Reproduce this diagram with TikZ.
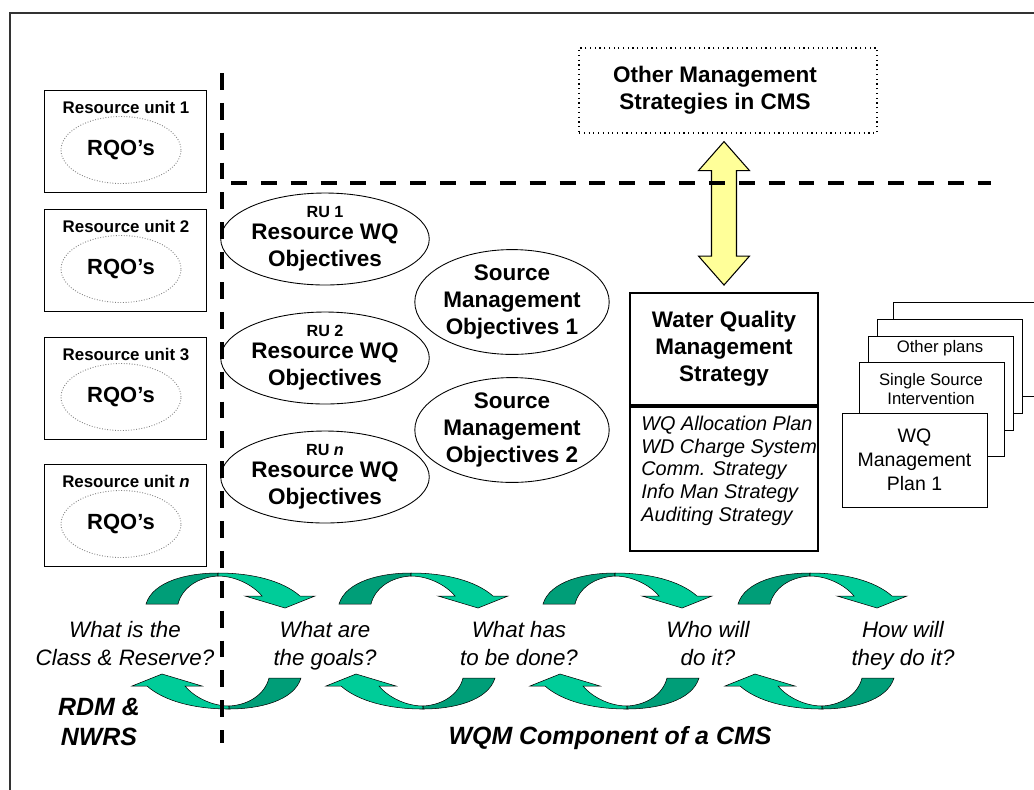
\documentclass[tikz,border=0pt]{standalone}
\usepackage{fontspec}
\setmainfont{Liberation Sans}
\usetikzlibrary{
    shapes.geometric,
    calc,
    positioning
}
\definecolor{darkgrn}{RGB}{0,158,120}
\definecolor{litegrn}{RGB}{0,204,153}
\definecolor{paleyel}{RGB}{255,255,153}

\tikzset{
    rubox/.style={draw, line width=0.5pt, minimum width=3.24cm, minimum height=2.04cm},
    rqo/.style={ellipse, draw=gray, densely dotted, line width=0.5pt,
        minimum width=2.4cm, minimum height=1.34cm, inner sep=0pt,
        font=\fontsize{12.5}{15}\selectfont\bfseries},
    ruell/.style={ellipse, draw, line width=0.5pt, minimum width=3.56cm,
        minimum height=1.84cm, inner sep=0pt, align=center,
        font=\fontsize{12.8}{15.3}\selectfont\bfseries},
    smo/.style={ruell, minimum width=3.58cm, minimum height=2.02cm},
    otherbox/.style={draw, dotted, line width=0.7pt, minimum width=5.96cm, minimum height=1.7cm},
    wqbox/.style={draw, line width=1.1pt, minimum width=3.76cm, align=center, inner sep=0pt,
        font=\fontsize{12.8}{15.3}\selectfont\bfseries},
    page/.style={draw, fill=white, line width=0.5pt, minimum width=2.9cm, minimum height=1.88cm,
        align=center, inner sep=0pt},
    big/.style={align=center, inner sep=0pt, font=\fontsize{12.8}{15.3}\selectfont\bfseries},
    ques/.style={align=center, inner sep=0pt, font=\fontsize{12.7}{15.9}\selectfont\itshape},
    tag/.style={align=center, inner sep=0pt, font=\fontsize{14.2}{17}\selectfont\bfseries\itshape},
    divline/.style={line width=2.3pt, dash pattern=on 9.6pt off 7.4pt},
    cyc/.pic={
        % back band
        \filldraw[fill=darkgrn, line width=0.3pt]
        (-72,31) .. controls (-65,8) and (-30,0) .. (0,0) -- (0,3)
        .. controls (-20,4) and (-36,15) .. (-40,31) -- cycle;
        % front band with head
        \filldraw[fill=litegrn, line width=0.3pt]
        (0,0) .. controls (35,0) and (65,8) .. (82,23) -- (97,23) -- (67,35)
        -- (27,23) -- (44,23) .. controls (34,11) and (16,3) .. (0,3) -- cycle;
    }
}

\begin{document}
\begin{tikzpicture}[x=0.02cm, y=-0.02cm]
    \useasboundingbox (0,0) rectangle (1034,789);
    \clip (0,0) rectangle (1034,789);
    \fill[white] (0,0) rectangle (1034,789);
    \draw[line width=1.1pt, black!80] (10,13) rectangle (1060,820);

    % resource units
    \foreach \t/\k/\i in {90/1/1, 209/2/2, 337/3/3, 464/{\textit{n}}/4} {
        \node[rubox] (unit\i) at (125,\t+51) {};
        \node[font=\fontsize{9.6}{11}\selectfont\bfseries, inner sep=0pt] (unitlbl\i) at (126,\t+17) {Resource unit \k};
        \node[rqo] (rqo\i) at (121,\t+60) {RQO’s};
    }

    % resource WQ objectives
    \foreach \y/\k/\i in {239/1/1, 358/2/2, 477/{\textit{n}}/3} {
        \node[ruell] (ru\i) at (325,\y) {{\fontsize{9.2}{11}\selectfont RU \k}\\[-2.8pt]Resource WQ\\Objectives};
    }

    % source management objectives
    \node[smo] (smo1) at (512,302) {Source\\Management\\Objectives 1};
    \node[smo] (smo2) at (512,430) {Source\\Management\\Objectives 2};

    % other strategies
    \node[otherbox] (other) at (728,90.5) {};
    \node[big] (othertxt) at (715,90) {Other Management\\Strategies in CMS};

    % water quality management strategy
    \node[wqbox, minimum height=2.24cm] (wqms) at (724,349) {Water Quality\\Management\\Strategy};
    \node[wqbox, minimum height=2.88cm, below=0pt of wqms] (wqplans) {};
    \node[anchor=north west, align=left, inner sep=0pt,
        font=\fontsize{11.3}{13}\selectfont\itshape] (plantxt)
        at ($(wqplans.north west)+(12,9.5)$)
        {WQ Allocation Plan\\WD Charge System\\Comm. Strategy\\Info Man Strategy\\Auditing Strategy};

    % link to the other strategies
    \coordinate (tipA) at ($(wqms.north |- other.south)+(0,8)$);
    \coordinate (tipB) at ($(wqms.north)+(0,-7)$);
    \draw[fill=paleyel, line width=0.6pt]
    (tipA) -- ($(tipA)+(25.5,29)$) -- ($(tipA)+(12.5,29)$) -- ($(tipB)+(12.5,-29)$)
    -- ($(tipB)+(25.5,-29)$) -- (tipB) -- ($(tipB)+(-25.5,-29)$) -- ($(tipB)+(-12.5,-29)$)
    -- ($(tipA)+(-12.5,29)$) -- ($(tipA)+(-25.5,29)$) -- cycle;

    % stack of plans
    \node[page] (pg5) at (965.5,349) {};
    \node[page] (pg4) at (949.5,366.5) {};
    \node[page] (pg3) at (940.5,383.5) {};
    \node[font=\fontsize{9.5}{11.3}\selectfont, inner sep=0pt] (pg3txt) at (940,348) {Other plans};
    \node[page] (pg2) at (931.5,409) {};
    \node[align=center, font=\fontsize{9.5}{11.3}\selectfont, inner sep=0pt] (pg2txt) at (931,389) {Single Source\\Intervention};
    \node[page, font=\fontsize{11.1}{13.6}\selectfont] (pg1) at (914.5,460) {WQ\\Management\\Plan 1};

    % cycle arrows
    \foreach \a in {218,411,615,810} {
        \pic at (\a,573) {cyc};
    }
    \foreach \a in {229,423,627,822} {
        \pic[rotate=180] at (\a,709) {cyc};
    }

    % questions
    \node[ques] (q1) at (125,646) {What is the\strut\\Class \& Reserve?\strut};
    \node[ques] (q2) at (325,646) {What are\strut\\the goals?\strut};
    \node[ques] (q3) at (519,646) {What has\strut\\to be done?\strut};
    \node[ques] (q4) at (708,646) {Who will\strut\\do it?\strut};
    \node[ques] (q5) at (903,646) {How will\strut\\they do it?\strut};

    \node[tag] (rdm) at (99,722) {RDM \&\\NWRS};
    \node[tag] (wqm) at (610,738) {WQM Component of a CMS};

    % dividing lines
    \draw[divline] (222,73) -- (222,743);
    \draw[divline, dash pattern=on 9.1pt off 7.9pt] (231,183) -- (991,183);
\end{tikzpicture}
\end{document}
